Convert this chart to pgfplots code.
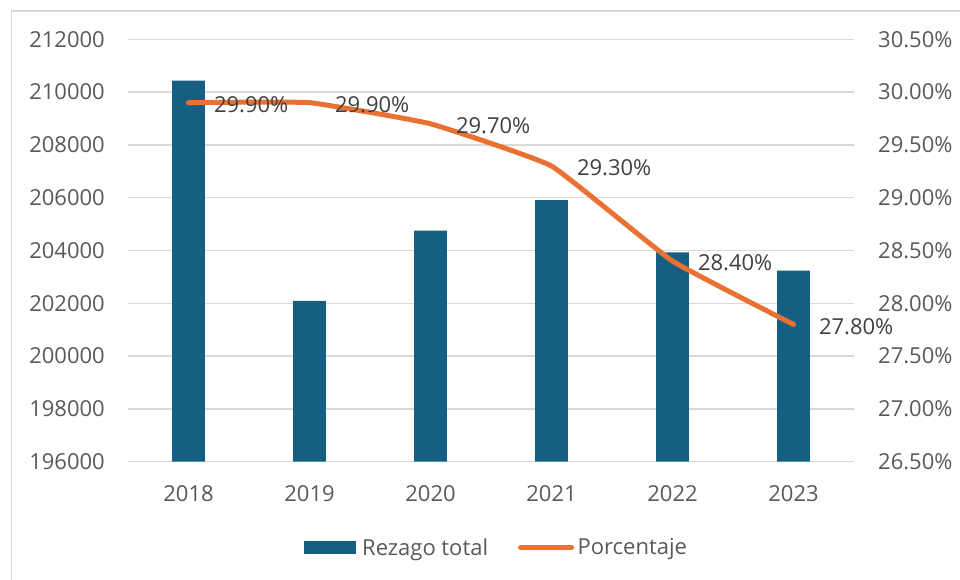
\documentclass[border=0pt]{standalone}
\usepackage{pgfplots}
\pgfplotsset{compat=1.18}
\usepackage{fontspec}
\setmainfont{Open Sans}
\definecolor{barblue}{HTML}{156082}
\definecolor{lineorange}{HTML}{E97132}
\definecolor{gridgray}{HTML}{D9D9D9}
\definecolor{ticktext}{HTML}{595959}
\definecolor{labeltext}{HTML}{404040}
\begin{document}
\begin{tikzpicture}
\useasboundingbox (-128pt,-117.3pt) rectangle (832pt,461.7pt);
\draw[gridgray, line width=1.5pt] (-116.5pt,-120pt) -- (-116.5pt,450.7pt) -- (835pt,450.7pt);
\begin{axis}[
  scale only axis, width=726pt, height=422.4pt,
  xmin=-0.5, xmax=5.5, ymin=196000, ymax=212000,
  ytick distance=2000,
  scaled y ticks=false,
  xtick={0,1,2,3,4,5},
  xticklabels={2018,2019,2020,2021,2022,2023},
  ymajorgrids, grid style={gridgray, line width=1.5pt},
  axis line style={draw=none},
  major tick length=0pt,
  /pgf/number format/assume math mode=true,
  /pgf/number format/set thousands separator={},
  yticklabel={\pgfmathprintnumber[fixed,precision=0,set thousands separator={}]{\tick}},
  font=\fontsize{22}{26}\selectfont,
  tick label style={text=ticktext},
  yticklabel style={anchor=east, inner sep=0pt, xshift=-23pt},
  xticklabel style={anchor=north, inner sep=0pt, yshift=-24pt},
  clip=false,
]
\addplot[ybar, bar width=32.7pt, fill=barblue, draw=none, bar shift=0pt]
  coordinates {(0,210430) (1,202090) (2,204750) (3,205910) (4,203930) (5,203240)};
\end{axis}
\begin{axis}[
  scale only axis, width=726pt, height=422.4pt,
  xmin=-0.5, xmax=5.5, ymin=26.5, ymax=30.5,
  ytick distance=0.5,
  hide x axis,
  axis y line*=right,
  axis line style={draw=none},
  major tick length=0pt,
  /pgf/number format/assume math mode=true,
  font=\fontsize{22}{26}\selectfont,
  tick label style={text=ticktext},
  yticklabel={\pgfmathprintnumber[fixed,fixed zerofill,precision=2]{\tick}\%},
  yticklabel style={anchor=west, inner sep=0pt, xshift=24pt},
  clip=false,
  legend columns=2,
  legend style={draw=none, fill=none, at={(0.506,-0.203)}, anchor=center,
    font=\fontsize{22}{26}\selectfont, text=ticktext,
    /tikz/every even column/.append style={column sep=30pt},
    nodes={inner sep=0pt}},
]
\addlegendimage{legend image code/.code={\fill[barblue] (0pt,-6pt) rectangle (51pt,6pt); \path (58pt,0);}}
\addlegendentry{Rezago total}
\addplot[lineorange, line width=5pt, line cap=round, line join=round, smooth, tension=0.2,
  point meta=y,
  nodes near coords={\pgfmathprintnumber[fixed,fixed zerofill,precision=2]{\pgfplotspointmeta}\%},
  nodes near coords style={anchor=west, inner sep=0pt, xshift=23pt, yshift=-2pt, text=labeltext, font=\fontsize{22}{26}\selectfont},
  legend image code/.code={\draw[lineorange, line width=5pt, line cap=round] (2.5pt,0pt) -- (53.5pt,0pt); \path (57pt,0);},
  ]
  coordinates {(0,29.9) (1,29.9) (2,29.7) (3,29.3) (4,28.4) (5,27.8)};
\addlegendentry{Porcentaje}
\end{axis}
\end{tikzpicture}
\end{document}
